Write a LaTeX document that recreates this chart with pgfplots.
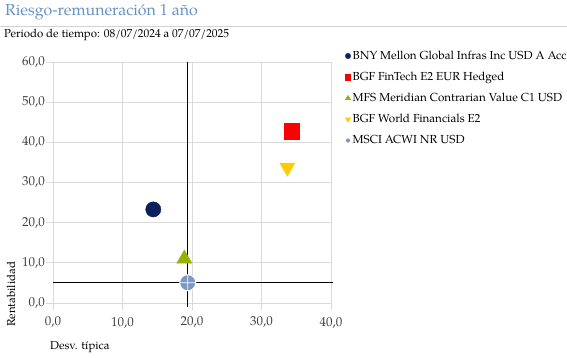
\documentclass[border=0pt]{standalone}
\usepackage{fontspec}
\setmainfont{TeX Gyre Pagella}
\usepackage{pgfplots}
\pgfplotsset{compat=1.18}
\definecolor{titleblue}{RGB}{99,146,196}
\definecolor{sepgray}{RGB}{210,210,210}
\definecolor{gridgray}{RGB}{217,217,217}
\definecolor{labgray}{RGB}{64,64,64}
\definecolor{bny}{RGB}{13,31,92}
\definecolor{fintech}{RGB}{255,0,0}
\definecolor{mfs}{RGB}{153,176,0}
\definecolor{wf}{RGB}{255,204,0}
\definecolor{msci}{RGB}{122,152,196}
\begin{document}
\begin{tikzpicture}[x=1bp,y=1bp]
\useasboundingbox (0,0) rectangle (567,-357);
\node[anchor=base west, font=\fontsize{16}{19}\selectfont, text=titleblue, inner sep=0] at (5,-15) {Riesgo-remuneración 1 año};
\draw[sepgray, line width=0.8bp] (0,-26) -- (567,-26);
\node[anchor=base west, font=\fontsize{11.5}{13}\selectfont, inner sep=0] at (4,-37.5) {Periodo de tiempo: 08/07/2024 a 07/07/2025};
\begin{axis}[
  at={(53bp,-303bp)}, anchor=south west,
  scale only axis, width=278bp, height=241bp,
  xmin=0, xmax=40, ymin=0, ymax=60,
  xtick={0,10,20,30,40}, ytick={0,10,20,30,40,50,60},
  grid=major, major grid style={gridgray, line width=0.8bp},
  axis line style={draw=none},
  tick pos=left, tick align=outside, major tick length=7bp,
  tick style={gridgray, line width=0.8bp},
  ticklabel style={font=\fontsize{13}{15}\selectfont, text=labgray},
  yticklabel style={inner sep=1bp},
  xticklabel style={yshift=-3.5bp},
  /pgf/number format/.cd, fixed, fixed zerofill, precision=1, use comma, assume math mode=true,
  /pgfplots/.cd,
  clip=false,
  legend style={at={(1.04,1.063)}, anchor=north west, draw=none, fill=none,
    font=\fontsize{11.7}{13}\selectfont, row sep=7.2bp, text=black,
    nodes={inner xsep=2bp}},
  legend cell align=left,
]
\addplot[black, line width=1bp, forget plot] coordinates {(19.4,60) (19.4,-1)};
\addplot[black, line width=1bp, forget plot] coordinates {(0,5.05) (40.3,5.05)};
\addplot[only marks, mark=*, mark size=7.6bp, color=bny,
  legend image code/.code={\draw[bny, mark=*, mark size=2.7bp] plot coordinates {(0bp,0bp)};}]
  coordinates {(14.43,23.3)};
\addlegendentry{BNY Mellon Global Infras Inc USD A Acc}
\addplot[only marks, mark=square*, mark size=7.8bp, color=fintech,
  legend image code/.code={\draw[fintech, mark=square*, mark size=2.6bp] plot coordinates {(0bp,0bp)};}]
  coordinates {(34.34,42.74)};
\addlegendentry{BGF FinTech E2 EUR Hedged}
\addplot[only marks, mark=triangle*, mark size=8.8bp, color=mfs,
  legend image code/.code={\draw[mfs, mark=triangle*, mark size=3bp] plot coordinates {(0bp,0bp)};}]
  coordinates {(18.9,11.0)};
\addlegendentry{MFS Meridian Contrarian Value C1 USD}
\addplot[only marks, mark=triangle*, mark size=8.8bp, color=wf, mark options={rotate=180},
  legend image code/.code={\draw[wf, mark=triangle*, mark size=3bp, mark options={rotate=180}] plot coordinates {(0bp,0bp)};}]
  coordinates {(33.72,33.75)};
\addlegendentry{BGF World Financials E2}
\addplot[only marks, mark=oplus*, mark size=8bp,
  mark options={fill=msci, draw=white, line width=0.8bp},
  legend image code/.code={\draw[msci, mark=*, mark size=2.7bp] plot coordinates {(0bp,0bp)};}]
  coordinates {(19.38,5.05)};
\addlegendentry{MSCI ACWI NR USD}
\end{axis}
\node[anchor=base west, rotate=90, font=\fontsize{11.5}{13}\selectfont, inner sep=0] at (15,-327) {Rentabilidad};
\node[anchor=base west, font=\fontsize{11.5}{13}\selectfont, inner sep=0] at (50,-349) {Desv. típica};
\end{tikzpicture}
\end{document}
